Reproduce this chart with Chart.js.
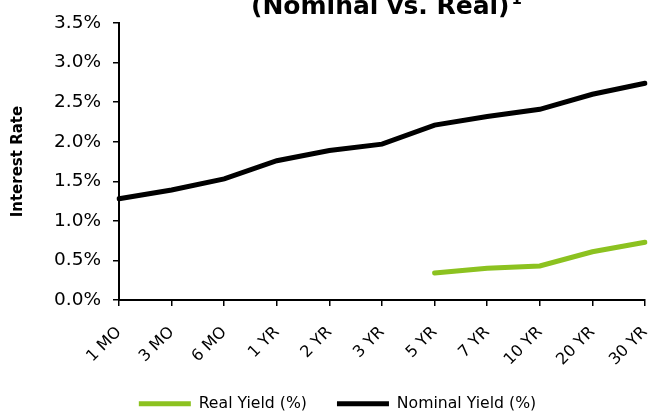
<!DOCTYPE html>
<html>
<head>
<meta charset="utf-8">
<script src="https://cdn.jsdelivr.net/npm/chart.js@4/dist/chart.umd.min.js"></script>
<style>
  html, body { margin: 0; padding: 0; background: #fff; }
  #wrap { width: 649px; height: 411px; }
</style>
</head>
<body>
<div id="wrap"><canvas id="yieldChart"></canvas></div>
<script>
// maturities along the curve
const maturities = ['1 MO', '3 MO', '6 MO', '1 YR', '2 YR', '3 YR', '5 YR', '7 YR', '10 YR', '20 YR', '30 YR'];
// yields in percent
const nominalYield = [1.28, 1.39, 1.53, 1.76, 1.89, 1.97, 2.21, 2.32, 2.41, 2.60, 2.74];
const realYield = [null, null, null, null, null, null, 0.34, 0.40, 0.43, 0.61, 0.73];
const yTicks = [0, 0.5, 1.0, 1.5, 2.0, 2.5, 3.0, 3.5];

const FONT = '"DejaVu Sans", Verdana, sans-serif';

// title sits partly above the canvas, so it is drawn by hand
const titlePlugin = {
    id: 'cutTitle',
    afterDraw(chart) {
        const ctx = chart.ctx;
        ctx.save();
        ctx.fillStyle = '#000';
        ctx.textBaseline = 'alphabetic';
        ctx.textAlign = 'left';
        ctx.font = 'bold 25px ' + FONT;
        const txt = '(Nominal vs. Real)';
        const x = 251;
        ctx.fillText(txt, x, 14);
        const w = ctx.measureText(txt).width;
        ctx.font = 'bold 15px ' + FONT;
        ctx.fillText('1', x + w + 2, 4);
        ctx.restore();
    }
};

// keep the legend low and a bit to the right, like the original
const legendPlace = {
    id: 'legendPlace',
    beforeLayout(chart) {
        const lg = chart.legend;
        if (lg && !lg._patched) {
            const fit = lg.fit.bind(lg);
            lg.fit = function () { fit(); this.height = 45; };
            lg._patched = true;
        }
    },
    afterLayout(chart) {
        if (chart.legend) chart.legend.left += 30;
    }
};

new Chart(document.getElementById('yieldChart').getContext('2d'), {
    type: 'line',
    data: {
        labels: maturities,
        datasets: [{
            label: 'Real Yield (%)',
            data: realYield,
            borderColor: '#8cc220',
            backgroundColor: '#8cc220',
            borderWidth: 5,
            borderCapStyle: 'round',
            pointRadius: 0,
            tension: 0
        }, {
            label: 'Nominal Yield (%)',
            data: nominalYield,
            borderColor: '#000000',
            backgroundColor: '#000000',
            borderWidth: 5,
            borderCapStyle: 'round',
            pointRadius: 0,
            tension: 0
        }]
    },
    options: {
        responsive: true,
        maintainAspectRatio: false,
        animation: false,
        events: [],
        layout: { padding: { top: 18, right: 4, left: 0, bottom: 0 } },
        scales: {
            x: {
                offset: false,
                border: { display: true, color: '#000', width: 2 },
                grid: { drawOnChartArea: false, drawTicks: true, tickLength: 6, color: '#000', lineWidth: 1.5 },
                ticks: {
                    color: '#000', font: { family: FONT, size: 16 },
                    minRotation: 45, maxRotation: 45, autoSkip: false, padding: 17
                },
                afterFit(scale) {
                    scale.height = 66;
                    scale.paddingLeft = 0;
                    scale.paddingRight = 0;
                }
            },
            y: {
                min: 0, max: 3.5,
                afterBuildTicks(scale) { scale.ticks = yTicks.map(v => ({ value: v })); },
                border: { display: true, color: '#000', width: 2 },
                grid: { drawOnChartArea: false, drawTicks: true, tickLength: 6, color: '#000', lineWidth: 1.5 },
                ticks: {
                    color: '#000', font: { family: FONT, size: 18.5 }, padding: 12,
                    callback: v => v.toFixed(1) + '%'
                },
                title: {
                    display: true, text: 'Interest Rate', color: '#000',
                    font: { family: FONT, size: 15, weight: 'bold' }, padding: { top: 9, bottom: 10 }
                },
                afterFit(scale) { scale.width = 119; }
            }
        },
        plugins: {
            legend: {
                position: 'bottom',
                labels: {
                    color: '#000', font: { family: FONT, size: 15.7 },
                    usePointStyle: true, pointStyle: 'line', pointStyleWidth: 52,
                    boxWidth: 52, boxHeight: 5, padding: 30
                }
            },
            tooltip: { enabled: false }
        }
    },
    plugins: [titlePlugin, legendPlace]
});
</script>
</body>
</html>
